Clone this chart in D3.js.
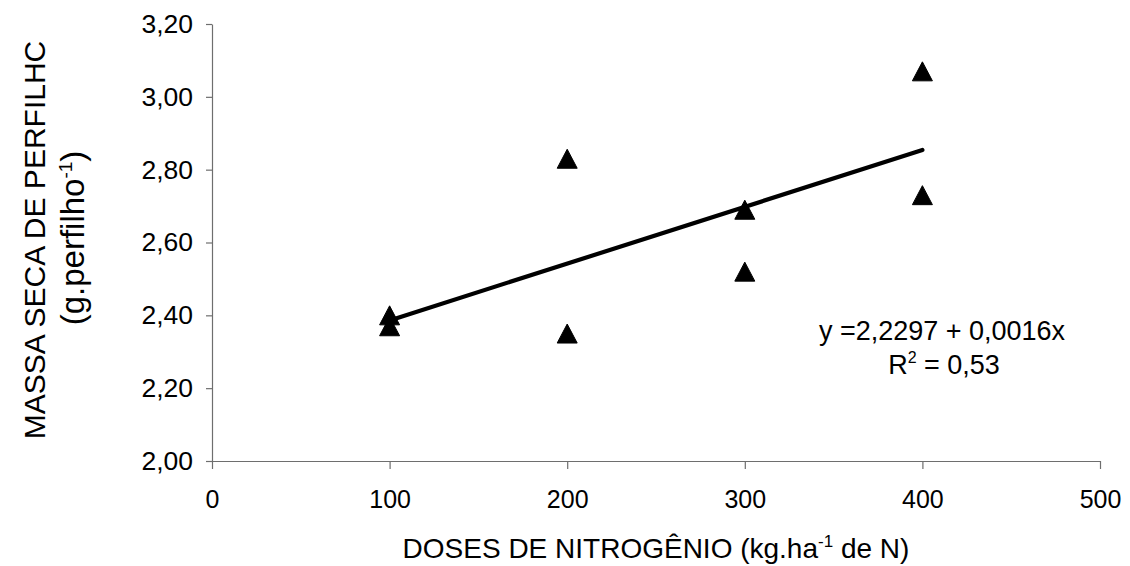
<!DOCTYPE html>
<html>
<head>
<meta charset="utf-8">
<script src="https://cdn.jsdelivr.net/npm/d3@7"></script>
<style>
  body { margin: 0; background: #fff; }
  svg { display: block; }
  text { font-family: "Liberation Sans", Arial, sans-serif; fill: #000; }
</style>
</head>
<body>
<svg id="chart" width="1130" height="566"></svg>
<script>
// Nitrogen dose (kg/ha) and tiller dry mass (g per tiller)
const doses = [100, 100, 200, 200, 300, 300, 400, 400];
const massa = [2.40, 2.37, 2.83, 2.35, 2.69, 2.52, 3.07, 2.73];

const xTicks = [0, 100, 200, 300, 400, 500];
const yTicks = [2.00, 2.20, 2.40, 2.60, 2.80, 3.00, 3.20];

const equationLabel = "y =2,2297 + 0,0016x";
const r2Label = "0,53";

const svg = d3.select("#chart");
const W = 1130, H = 566;
svg.append("rect").attr("width", W).attr("height", H).attr("fill", "#fff");

const x = d3.scaleLinear().domain([0, 500]).range([212, 1100]);
const y = d3.scaleLinear().domain([2.0, 3.2]).range([461, 24]);

const axisColor = "#6e6e6e";
const fmtY = d => d.toFixed(2).replace(".", ",");

// X axis
const gx = svg.append("g").attr("transform", `translate(0,${y(2.0)})`)
  .call(d3.axisBottom(x).tickValues(xTicks).tickFormat(d3.format("d"))
    .tickSize(8).tickSizeOuter(0).tickPadding(21));
gx.select(".domain").attr("stroke", axisColor).attr("stroke-width", 1.2);
gx.selectAll(".tick line").attr("stroke", axisColor).attr("stroke-width", 1.2);
gx.selectAll(".tick text").attr("font-size", 25).attr("font-family", "Liberation Sans, Arial, sans-serif").attr("fill", "#000");

// Y axis
const gy = svg.append("g").attr("transform", `translate(${x(0)},0)`)
  .call(d3.axisLeft(y).tickValues(yTicks).tickFormat(fmtY)
    .tickSize(6).tickSizeOuter(0).tickPadding(13));
gy.select(".domain").attr("stroke", axisColor).attr("stroke-width", 1.2);
gy.selectAll(".tick line").attr("stroke", axisColor).attr("stroke-width", 1.2);
gy.selectAll(".tick text").attr("font-size", 26.5).attr("font-family", "Liberation Sans, Arial, sans-serif").attr("fill", "#000");

// Least-squares trend line through the observations
const mx = d3.mean(doses), my = d3.mean(massa);
const sxy = d3.sum(doses, (d, i) => (d - mx) * (massa[i] - my));
const sxx = d3.sum(doses, d => (d - mx) * (d - mx));
const slope = sxy / sxx, intercept = my - slope * mx;
const xr = d3.extent(doses);
svg.append("path")
  .datum(xr.map(v => [v, intercept + slope * v]))
  .attr("d", d3.line().x(d => x(d[0])).y(d => y(d[1])))
  .attr("stroke", "#000").attr("stroke-width", 4.2)
  .attr("stroke-linecap", "round").attr("fill", "none");

// Triangle markers
const tri = "M0,-9.5L10,9.5L-10,9.5Z";
svg.append("g").selectAll("path").data(doses).join("path")
  .attr("d", tri)
  .attr("transform", (d, i) => `translate(${x(d)},${y(massa[i])})`)
  .attr("fill", "#000").attr("stroke", "#000").attr("stroke-width", 1)
  .attr("stroke-linejoin", "round");

// Equation and R²
svg.append("text").attr("x", 942).attr("y", 340).attr("text-anchor", "middle")
  .attr("font-size", 27).text(equationLabel);
const r2 = svg.append("text").attr("x", 944).attr("y", 374).attr("text-anchor", "middle")
  .attr("font-size", 27);
r2.append("tspan").text("R");
r2.append("tspan").attr("dy", -11).attr("font-size", 16).text("2");
r2.append("tspan").attr("dy", 11).text(" = " + r2Label);

// X axis title
const xt = svg.append("text").attr("x", 656).attr("y", 558).attr("text-anchor", "middle")
  .attr("font-size", 28);
xt.append("tspan").text("DOSES DE NITROGÊNIO (kg.ha");
xt.append("tspan").attr("dy", -11).attr("font-size", 17).text("-1");
xt.append("tspan").attr("dy", 11).text(" de N)");

// Y axis title (two lines)
svg.append("text").attr("transform", "translate(45,240) rotate(-90)")
  .attr("text-anchor", "middle").attr("font-size", 30)
  .text("MASSA SECA DE PERFILHC");
const yt2 = svg.append("text").attr("transform", "translate(84,238) rotate(-90)")
  .attr("text-anchor", "middle").attr("font-size", 33);
yt2.append("tspan").text("(g.perfilho");
yt2.append("tspan").attr("dy", -12).attr("font-size", 19).text("-1");
yt2.append("tspan").attr("dy", 12).text(")");
</script>
</body>
</html>
